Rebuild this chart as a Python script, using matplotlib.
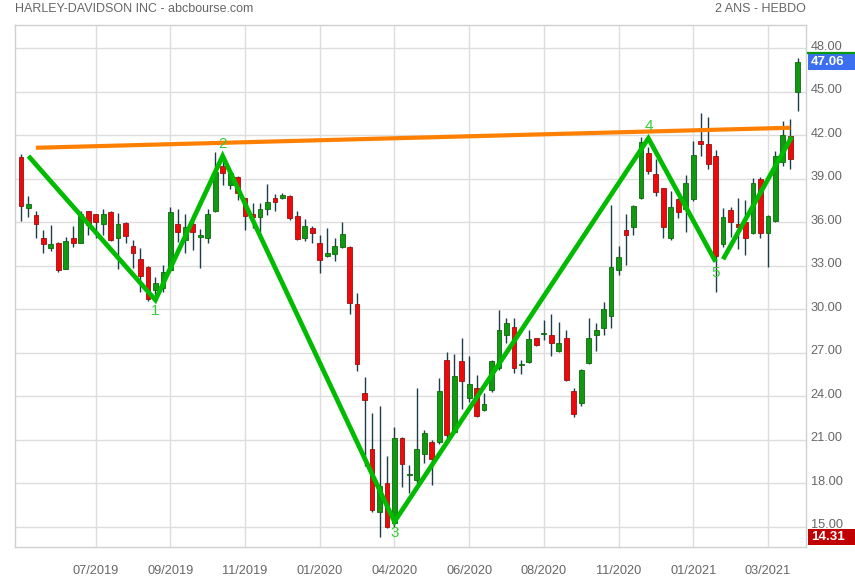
import matplotlib
matplotlib.use("Agg")
import matplotlib.pyplot as plt
from matplotlib import font_manager
from matplotlib.patches import Rectangle
from matplotlib.lines import Line2D
from matplotlib.transforms import ScaledTranslation
import numpy as np

# ---------------- data ----------------
opens = [40.5, 37.0, 36.5, 34.9, 34.25, 34.6, 32.8, 34.9, 34.6, 36.75,
         36.55, 35.85, 36.7, 34.95, 35.95, 34.4, 33.45, 32.95, 31.3, 31.5,
         32.7, 35.85, 34.75, 35.85, 35.0, 34.9, 36.8, 39.9, 38.6, 39.15,
         37.65, 36.55, 36.4, 36.9, 37.65, 37.65, 37.8, 36.45, 34.95, 35.6,
         34.6, 33.65, 33.8, 34.3, 34.3, 30.4, 24.2, 20.35, 16.0, 18.0,
         15.25, 21.15, 18.6, 18.25, 20.0, 20.85, 20.85, 26.5, 21.55, 26.45,
         23.85, 24.6, 23.05, 24.45, 25.95, 28.2, 28.75, 26.15, 26.4, 28.0,
         28.3, 28.25, 27.15, 28.0, 24.35, 23.55, 26.3, 28.2, 28.7, 29.55,
         32.7, 35.5, 35.65, 37.7, 40.8, 39.3, 38.35, 34.95, 37.6, 36.95,
         37.6, 41.6, 41.4, 40.55, 34.5, 36.85, 35.9, 36.05, 35.25, 39.0,
         35.25, 36.1, 40.15, 41.95, 45.0]
highs = [40.7, 37.8, 36.8, 35.5, 35.8, 34.65, 35.0, 35.75, 36.75, 36.8,
         36.6, 36.95, 36.75, 36.65, 36.05, 34.8, 34.2, 33.0, 32.25, 33.05,
         37.05, 36.95, 36.6, 36.6, 35.55, 36.95, 40.85, 40.5, 39.5, 39.2,
         37.7, 37.35, 37.35, 38.65, 37.95, 38.05, 37.85, 36.8, 36.2, 35.75,
         35.1, 35.6, 34.95, 36.0, 34.4, 31.15, 25.3, 22.85, 23.3, 19.85,
         21.85, 21.2, 19.25, 24.55, 21.7, 21.0, 25.25, 27.05, 26.9, 28.05,
         26.8, 25.45, 24.2, 26.5, 29.95, 29.4, 29.4, 26.5, 28.55, 28.05,
         29.25, 29.7, 29.1, 28.55, 24.55, 25.85, 29.4, 29.05, 30.5, 37.2,
         34.35, 36.55, 37.2, 41.9, 41.2, 40.35, 38.4, 38.15, 37.7, 39.25,
         41.6, 43.55, 43.25, 41.0, 37.0, 37.05, 37.7, 37.55, 39.05, 39.1,
         36.5, 40.9, 43.0, 43.15, 47.3]
lows = [36.1, 36.4, 34.9, 33.9, 34.0, 32.6, 32.75, 34.3, 34.55, 35.15,
        34.95, 35.15, 34.7, 32.75, 34.6, 32.85, 31.2, 30.6, 30.7, 31.2,
        32.6, 34.65, 33.9, 34.1, 32.85, 34.55, 36.7, 38.55, 38.3, 37.55,
        35.5, 35.6, 35.35, 36.5, 36.75, 37.6, 36.15, 34.8, 34.7, 34.6,
        32.5, 33.6, 33.3, 34.2, 29.65, 25.75, 19.2, 16.0, 14.31, 14.9,
        15.0, 17.75, 17.35, 18.0, 19.4, 17.9, 20.7, 21.0, 21.5, 23.15,
        23.6, 22.6, 23.0, 24.3, 25.8, 27.7, 25.6, 25.55, 26.3, 27.45,
        27.85, 26.75, 27.05, 25.05, 22.6, 23.3, 26.25, 27.1, 28.2, 28.7,
        32.4, 33.05, 35.1, 37.6, 39.35, 37.8, 34.95, 34.8, 36.3, 35.35,
        37.5, 40.6, 39.65, 31.2, 34.3, 35.0, 34.15, 33.75, 35.2, 34.95,
        32.95, 36.0, 39.85, 39.7, 43.7]
closes = [37.1, 37.25, 35.9, 34.5, 34.5, 32.7, 34.7, 34.6, 36.6, 35.8,
          36.0, 36.6, 34.8, 35.85, 35.05, 33.85, 32.3, 30.7, 31.8, 32.55,
          36.7, 35.3, 35.7, 35.35, 35.1, 36.55, 39.45, 39.4, 39.4, 38.0,
          36.45, 36.4, 36.9, 37.4, 37.4, 37.85, 36.3, 34.85, 35.75, 35.25,
          33.4, 33.85, 34.35, 35.2, 30.45, 26.2, 23.75, 16.15, 17.8, 15.0,
          21.1, 19.3, 18.65, 20.35, 21.45, 19.65, 24.35, 21.3, 25.4, 25.05,
          24.85, 22.65, 23.45, 26.45, 28.6, 29.05, 25.95, 26.25, 27.95, 27.55,
          28.4, 27.65, 27.7, 25.15, 22.8, 25.8, 28.0, 28.55, 30.05, 32.9,
          33.6, 35.1, 37.15, 41.55, 39.55, 38.1, 35.7, 37.05, 36.7, 38.7,
          40.65, 41.4, 40.05, 33.65, 36.35, 36.0, 35.65, 34.95, 38.7, 35.25,
          36.45, 40.55, 42.05, 40.4, 47.06]

date_tick_pos = [10, 20, 30, 40, 50, 60, 70, 80, 90, 100]
date_tick_labels = ["07/2019", "09/2019", "11/2019", "01/2020", "04/2020",
                    "06/2020", "08/2020", "11/2020", "01/2021", "03/2021"]
price_ticks = [15, 18, 21, 24, 27, 30, 33, 36, 39, 42, 45, 48]

# pattern annotations (week index, price)
zigzag_x = [1, 18, 27, 50, 84, 93]
zigzag_y = [40.57, 30.64, 40.57, 15.35, 41.79, 33.28]
zigzag_labels = ["1", "2", "3", "4", "5"]
leg_x = [94, 103.2]
leg_y = [33.45, 41.9]
resist_x = [2, 103]
resist_y = [41.14, 42.52]

last_price = 47.06
min_price = 14.31

# ---------------- fonts ----------------
def pick(fams):
    for f in fams:
        try:
            font_manager.findfont(f, fallback_to_default=False)
            return f
        except Exception:
            pass
    return "DejaVu Sans"

FONT = pick(["Liberation Sans Narrow", "Liberation Sans", "Roboto"])
plt.rcParams["font.family"] = [FONT, "DejaVu Sans"]

GRAY_TXT = "#666666"
GRID = "#dddddd"
W, H = 855, 580

fig = plt.figure(figsize=(W / 100, H / 100), dpi=100)
ax_left, ax_right, ax_top, ax_bottom = 15, 806, 25, 547
ax = fig.add_axes([ax_left / W, 1 - ax_bottom / H,
                   (ax_right - ax_left) / W, (ax_bottom - ax_top) / H])

n = len(opens)
x = np.arange(n)
o = np.array(opens); c = np.array(closes); h = np.array(highs); l = np.array(lows)
up = c >= o

# wicks
ax.vlines(x, l, h, color="#1d3c4a", linewidth=1.0, zorder=2)
# bodies
bottoms = np.minimum(o, c)
heights = np.maximum(np.abs(c - o), 0.06)
ax.bar(x[up], heights[up], bottom=bottoms[up], width=0.64,
       color="#119a11", edgecolor="#0b6b0b", linewidth=0.6, zorder=3)
ax.bar(x[~up], heights[~up], bottom=bottoms[~up], width=0.64,
       color="#ee0a0a", edgecolor="#9a1010", linewidth=0.6, zorder=3)

# resistance line
ax.plot(resist_x, resist_y, color="#ff8000", linewidth=3.0,
        solid_capstyle="butt", zorder=5)
# zigzag
ax.plot(zigzag_x, zigzag_y, color="#00bb00", linewidth=3.4,
        solid_joinstyle="miter", solid_capstyle="butt", zorder=6)
ax.plot(leg_x, leg_y, color="#00bb00", linewidth=3.4,
        solid_capstyle="butt", zorder=6)
for i, lab in enumerate(zigzag_labels):
    px, py = zigzag_x[i + 1], zigzag_y[i + 1]
    above = zigzag_y[i + 1] > zigzag_y[i]
    ax.annotate(lab, (px, py), xytext=(0, 3.5 if above else -3),
                textcoords="offset points", ha="center",
                va="bottom" if above else "top",
                color="#33cc33", fontsize=11, zorder=7)

ax.set_xlim(-0.8, 105.1)
y_top = 36 + (222.3 - ax_top) / 14.5
y_bot = 36 - (ax_bottom - 222.3) / 14.5
ax.set_ylim(y_bot, y_top)

ax.set_xticks(date_tick_pos)
ax.set_xticklabels(date_tick_labels)
ax.set_yticks(price_ticks)
ax.set_yticklabels([f"{v:.2f}" for v in price_ticks])
ax.yaxis.tick_right()
ax.tick_params(axis="both", length=0, colors=GRAY_TXT, labelsize=9.2)
ax.tick_params(axis="y", pad=3.5)
ax.tick_params(axis="x", pad=13)
shift = ScaledTranslation(0, 3 / 100, fig.dpi_scale_trans)
for lbl in ax.get_yticklabels():
    lbl.set_transform(lbl.get_transform() + shift)
ax.grid(True, color=GRID, linewidth=1.0, zorder=0)
ax.set_axisbelow(True)
for s in ax.spines.values():
    s.set_color("#d0d0d0")
    s.set_linewidth(1.0)

# price boxes on right axis (box from right border to figure edge)
def price_box(price, fc, top_line=None):
    y_px = 222.3 - (price - 36) * 14.5
    bh = 16
    rect = Rectangle((808 / W, 1 - (y_px + bh / 2) / H), (W - 808) / W, bh / H,
                     transform=fig.transFigure, facecolor=fc, edgecolor="none",
                     zorder=10)
    fig.patches.append(rect)
    if top_line:
        fig.lines.append(Line2D([808 / W, 1.0],
                                [1 - (y_px - bh / 2 - 1) / H] * 2,
                                transform=fig.transFigure, color=top_line,
                                linewidth=1.6, zorder=11))
    fig.text(811 / W, 1 - y_px / H, f"{price:.2f}", ha="left", va="center",
             color="white", fontsize=9.6, fontweight="bold", zorder=12)

price_box(last_price, "#3b6ff0", top_line="#0a9a0a")
price_box(min_price, "#c00000")

fig.text(15 / W, 1 - 9 / H, "HARLEY-DAVIDSON INC - abcbourse.com",
         ha="left", va="center", color=GRAY_TXT, fontsize=9.0)
fig.text(806 / W, 1 - 9 / H, "2 ANS - HEBDO",
         ha="right", va="center", color=GRAY_TXT, fontsize=9.0)

fig.savefig("out.png", dpi=100)
